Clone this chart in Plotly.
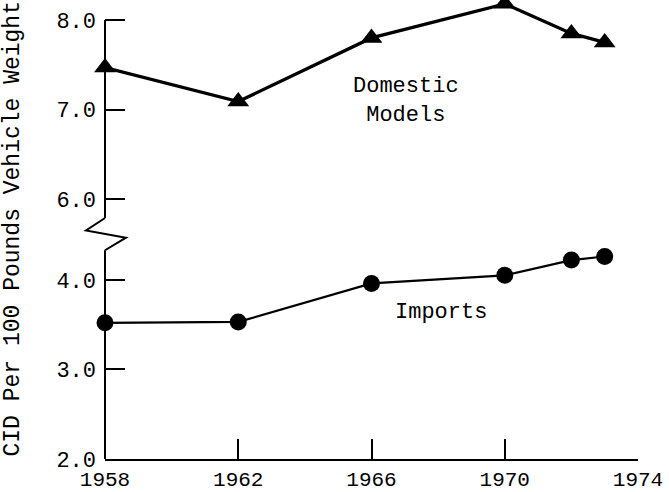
import plotly.graph_objects as go

# Data
years = [1958, 1962, 1966, 1970, 1972, 1973]
domestic = [7.47, 7.09, 7.80, 8.18, 7.85, 7.75]
imports = [3.52, 3.53, 3.96, 4.05, 4.22, 4.26]
x_ticks = [1958, 1962, 1966, 1970, 1974]
y_tick_values = [2.0, 3.0, 4.0, 6.0, 7.0, 8.0]
y_tick_labels = ["2.0", "3.0", "4.0", "6.0", "7.0", "8.0"]

# Broken axis: values above the break are shifted down
BREAK_OFFSET = 1.1
def to_disp(v):
    return v if v < 5 else v - BREAK_OFFSET

FONT = "Liberation Mono, Courier New, monospace"

W, H = 669, 492
ML, MR, MT, MB = 105, 31, 0, 33
plot_w = W - ML - MR
plot_h = H - MT - MB
TOP_PAD = 20
ytop = to_disp(8.0)
px_per_unit = (plot_h - TOP_PAD) / (ytop - 2)
yrange_top = ytop + TOP_PAD / px_per_unit

fig = go.Figure()
fig.add_trace(go.Scatter(
    x=years, y=[to_disp(v) for v in domestic], mode="lines+markers",
    line=dict(color="black", width=3.3),
    marker=dict(symbol="triangle-up", size=19, color="black"),
    cliponaxis=False, showlegend=False))
fig.add_trace(go.Scatter(
    x=years, y=[to_disp(v) for v in imports], mode="lines+markers",
    line=dict(color="black", width=2.2),
    marker=dict(symbol="circle", size=17, color="black"),
    cliponaxis=False, showlegend=False))

# y axis line with zigzag break (styling)
w = float(plot_w)
fig.add_shape(type="line", xref="paper", yref="y", x0=0, x1=0, y0=2, y1=4.33,
              line=dict(color="black", width=2))
fig.add_shape(type="path", xref="paper", yref="y",
              path=f"M 0 4.33 L {21/w} 4.47 L {-19/w} 4.55 L 0 4.69",
              line=dict(color="black", width=2))
fig.add_shape(type="line", xref="paper", yref="y", x0=0, x1=0, y0=4.69, y1=ytop,
              line=dict(color="black", width=2))

fig.add_annotation(x=1967.05, y=6.0, xref="x", yref="y", text="Domestic<br>Models",
                   showarrow=False, font=dict(family=FONT, size=22, color="black"))
fig.add_annotation(x=1968.1, y=3.64, xref="x", yref="y", text="Imports",
                   showarrow=False, font=dict(family=FONT, size=22, color="black"))
fig.add_annotation(x=(12 - ML) / plot_w, y=0.5, xref="paper", yref="paper",
                   xanchor="center", yanchor="middle",
                   text="CID Per 100 Pounds Vehicle Weight", textangle=-90,
                   showarrow=False, font=dict(family=FONT, size=23, color="black"))

fig.update_layout(
    width=W, height=H,
    margin=dict(l=ML, r=MR, t=MT, b=MB, autoexpand=False),
    paper_bgcolor="white", plot_bgcolor="white",
    font=dict(family=FONT, size=22, color="black"),
    xaxis=dict(range=[1958, 1974], tickvals=x_ticks, ticks="inside", ticklen=20,
               tickwidth=2, tickcolor="black", showline=True, linecolor="black",
               linewidth=2, showgrid=False, zeroline=False, automargin=False,
               ticklabelstandoff=0,
               tickfont=dict(family=FONT, size=21, color="black")),
    yaxis=dict(range=[2, yrange_top], tickvals=[to_disp(v) for v in y_tick_values],
               ticktext=y_tick_labels, ticks="inside", ticklen=20, tickwidth=2,
               tickcolor="black", showline=False, showgrid=False, zeroline=False,
               automargin=False, ticklabelstandoff=8,
               tickfont=dict(family=FONT, size=22, color="black")),
)
fig.write_html("out.html", config={"displayModeBar": False},
               post_script="document.body.style.margin='0';")
